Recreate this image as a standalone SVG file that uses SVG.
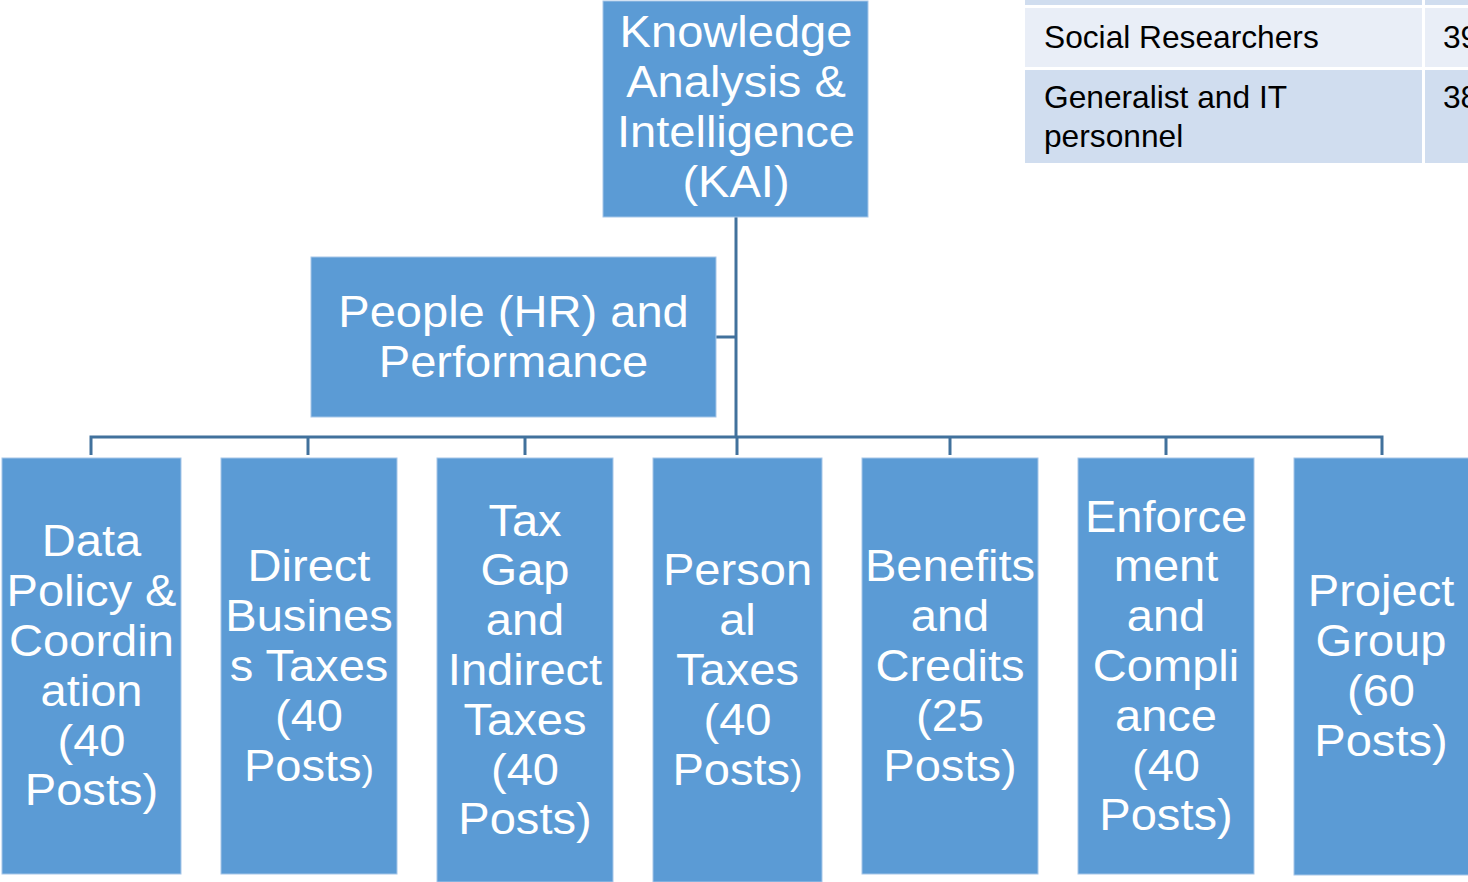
<svg xmlns="http://www.w3.org/2000/svg" width="1468" height="882" viewBox="0 0 1468 882">
<style>
.box{fill:#5B9BD5;stroke:#A6C6E8;stroke-width:1}
.t{font-family:"Liberation Sans",Arial,sans-serif;font-size:44px;fill:#FFFFFF;text-anchor:middle}
.tb{font-family:"Liberation Sans",Arial,sans-serif;font-size:31.7px;fill:#000000}
.c{fill:none;stroke:#41719C;stroke-width:3}
.sm{font-size:35px}
</style>
<rect width="1468" height="882" fill="#FFFFFF"/>
<g id="table">
<rect x="1025" y="0" width="397" height="5" fill="#D0DDEF"/>
<rect x="1425" y="0" width="43" height="5" fill="#D0DDEF"/>
<rect x="1025" y="8" width="397" height="59" fill="#E9EEF7"/>
<rect x="1425" y="8" width="43" height="59" fill="#E9EEF7"/>
<rect x="1025" y="70" width="397" height="93" fill="#D0DDEF"/>
<rect x="1425" y="70" width="43" height="93" fill="#D0DDEF"/>
<text class="tb" x="1044" y="48">Social Researchers</text>
<text class="tb" x="1443" y="48">39</text>
<text class="tb" x="1044" y="108">Generalist and IT</text>
<text class="tb" x="1044" y="147">personnel</text>
<text class="tb" x="1443" y="108">38</text>
</g>
<g id="connectors">
<path class="c" d="M736,217 V437"/>
<path class="c" d="M736,337 H716"/>
<path class="c" d="M736,437 H91 V455"/>
<path class="c" d="M308,437 V455"/>
<path class="c" d="M525,437 V455"/>
<path class="c" d="M737,437 V455"/>
<path class="c" d="M736,437 H1382 V455"/>
<path class="c" d="M950,437 V455"/>
<path class="c" d="M1166,437 V455"/>
</g>
<g id="kai">
<rect class="box" x="603" y="1" width="265" height="216"/>
<g transform="translate(736,0) scale(1.07,1)">
<text class="t" x="0" y="47.5">Knowledge</text>
<text class="t" x="0" y="97.3">Analysis &amp;</text>
<text class="t" x="0" y="147.1">Intelligence</text>
<text class="t" x="0" y="196.9">(KAI)</text>
</g>
</g>
<g id="hr">
<rect class="box" x="311" y="257" width="405" height="160"/>
<g transform="translate(513.5,0) scale(1.07,1)">
<text class="t" x="0" y="327">People (HR) and</text>
<text class="t" x="0" y="377">Performance</text>
</g>
</g>
<g id="data-policy">
<rect class="box" x="2" y="458" width="179" height="416"/>
<g transform="translate(91.5,0) scale(1.07,1)">
<text class="t" x="0" y="556.5">Data</text>
<text class="t" x="0" y="606.3">Policy &amp;</text>
<text class="t" x="0" y="656.1">Coordin</text>
<text class="t" x="0" y="705.9">ation</text>
<text class="t" x="0" y="755.7">(40</text>
<text class="t" x="0" y="805.5">Posts)</text>
</g>
</g>
<g id="direct-business">
<rect class="box" x="221" y="458" width="176" height="416"/>
<g transform="translate(309,0) scale(1.07,1)">
<text class="t" x="0" y="581.4">Direct</text>
<text class="t" x="0" y="631.2">Busines</text>
<text class="t" x="0" y="681">s Taxes</text>
<text class="t" x="0" y="730.8">(40</text>
<text class="t" x="0" y="780.6">Posts<tspan class="sm">)</tspan></text>
</g>
</g>
<g id="tax-gap">
<rect class="box" x="437" y="458" width="176" height="424"/>
<g transform="translate(525,0) scale(1.07,1)">
<text class="t" x="0" y="535.6">Tax</text>
<text class="t" x="0" y="585.4">Gap</text>
<text class="t" x="0" y="635.2">and</text>
<text class="t" x="0" y="685">Indirect</text>
<text class="t" x="0" y="734.8">Taxes</text>
<text class="t" x="0" y="784.6">(40</text>
<text class="t" x="0" y="834.4">Posts)</text>
</g>
</g>
<g id="personal-taxes">
<rect class="box" x="653" y="458" width="169" height="424"/>
<g transform="translate(737.5,0) scale(1.07,1)">
<text class="t" x="0" y="585.4">Person</text>
<text class="t" x="0" y="635.2">al</text>
<text class="t" x="0" y="685">Taxes</text>
<text class="t" x="0" y="734.8">(40</text>
<text class="t" x="0" y="784.6">Posts<tspan class="sm">)</tspan></text>
</g>
</g>
<g id="benefits">
<rect class="box" x="862" y="458" width="176" height="416"/>
<g transform="translate(950,0) scale(1.07,1)">
<text class="t" x="0" y="581.4">Benefits</text>
<text class="t" x="0" y="631.2">and</text>
<text class="t" x="0" y="681">Credits</text>
<text class="t" x="0" y="730.8">(25</text>
<text class="t" x="0" y="780.6">Posts)</text>
</g>
</g>
<g id="enforcement">
<rect class="box" x="1078" y="458" width="176" height="416"/>
<g transform="translate(1166,0) scale(1.07,1)">
<text class="t" x="0" y="531.6">Enforce</text>
<text class="t" x="0" y="581.4">ment</text>
<text class="t" x="0" y="631.2">and</text>
<text class="t" x="0" y="681">Compli</text>
<text class="t" x="0" y="730.8">ance</text>
<text class="t" x="0" y="780.6">(40</text>
<text class="t" x="0" y="830.4">Posts)</text>
</g>
</g>
<g id="project-group">
<rect class="box" x="1294" y="458" width="180" height="417"/>
<g transform="translate(1381,0) scale(1.07,1)">
<text class="t" x="0" y="606.3">Project</text>
<text class="t" x="0" y="656.1">Group</text>
<text class="t" x="0" y="705.9">(60</text>
<text class="t" x="0" y="755.7">Posts)</text>
</g>
</g>
</svg>
